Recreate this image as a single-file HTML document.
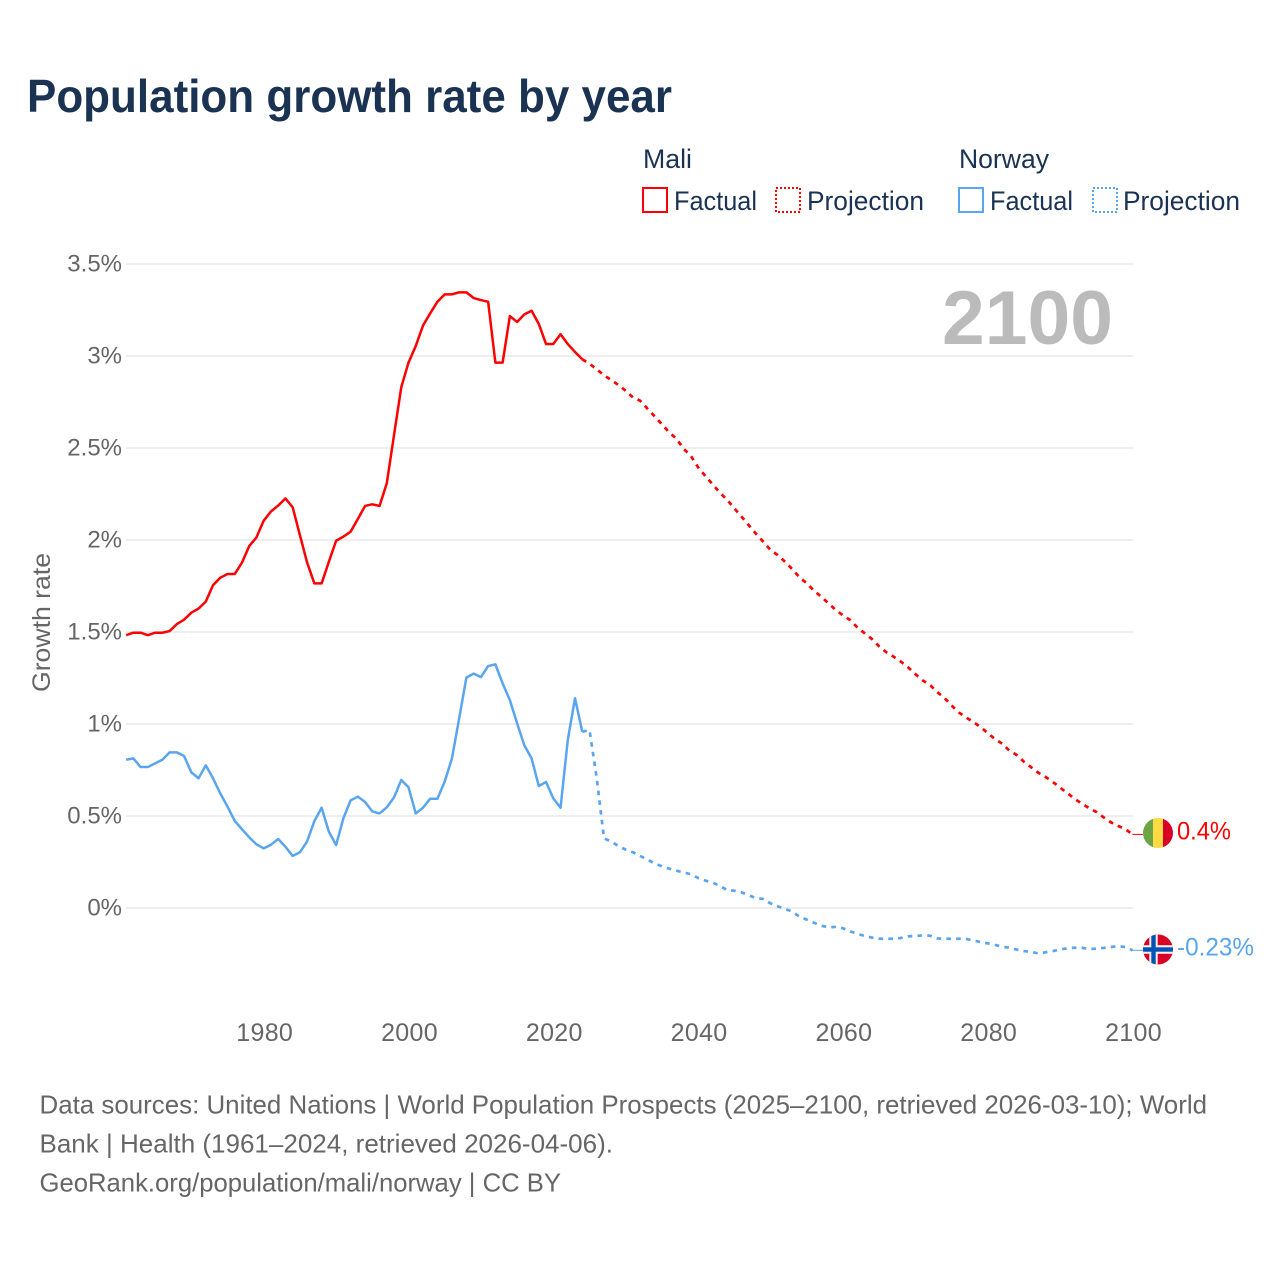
<!DOCTYPE html>
<html lang="en">
<head>
<meta charset="utf-8">
<title>Population growth rate by year</title>
<style>
html,body{margin:0;padding:0;background:#fff;}
svg{display:block;font-family:"Liberation Sans",sans-serif;}
</style>
</head>
<body>
<svg id="chart" xmlns="http://www.w3.org/2000/svg" width="1280" height="1280" viewBox="0 0 1280 1280">
  <rect x="0" y="0" width="1280" height="1280" fill="#ffffff"/>
  <text x="27" y="112" font-size="46" font-weight="700" fill="#1a3352" textLength="645" lengthAdjust="spacingAndGlyphs">Population growth rate by year</text>

  <g font-size="27" fill="#1a3352">
    <text x="643" y="168" textLength="49" lengthAdjust="spacingAndGlyphs">Mali</text>
    <text x="959" y="168" textLength="90" lengthAdjust="spacingAndGlyphs">Norway</text>
    <rect x="643" y="188" width="24" height="24" fill="none" stroke="#ff0000" stroke-width="2"/>
    <text x="674" y="210" textLength="83" lengthAdjust="spacingAndGlyphs">Factual</text>
    <rect x="776" y="188" width="24" height="24" fill="none" stroke="#ff0000" stroke-width="2" stroke-dasharray="2 2"/>
    <text x="807" y="210" textLength="117" lengthAdjust="spacingAndGlyphs">Projection</text>
    <rect x="959" y="188" width="24" height="24" fill="none" stroke="#5aa5ef" stroke-width="2"/>
    <text x="990" y="210" textLength="83" lengthAdjust="spacingAndGlyphs">Factual</text>
    <rect x="1093" y="188" width="24" height="24" fill="none" stroke="#5aa5ef" stroke-width="2" stroke-dasharray="2 2"/>
    <text x="1123" y="210" textLength="117" lengthAdjust="spacingAndGlyphs">Projection</text>
  </g>

  <g id="grid"></g>
  <g id="y-ticks"></g>
  <g id="x-ticks"></g>
  <text transform="translate(50,692) rotate(-90)" font-size="25" fill="#666666" textLength="139" lengthAdjust="spacingAndGlyphs">Growth rate</text>
  <text x="942" y="344" font-size="76" font-weight="700" fill="#bbbbbb" textLength="171" lengthAdjust="spacingAndGlyphs">2100</text>

  <g id="series"></g>

  <defs>
    <clipPath id="clip-mali"><circle cx="1158" cy="833" r="15"/></clipPath>
    <clipPath id="clip-norway"><circle cx="1158" cy="949.5" r="15"/></clipPath>
  </defs>
  <g clip-path="url(#clip-mali)">
    <rect x="1143" y="818" width="10" height="30" fill="#6da544"/>
    <rect x="1153" y="818" width="10" height="30" fill="#ffda44"/>
    <rect x="1163" y="818" width="10" height="30" fill="#d80027"/>
  </g>
  <g clip-path="url(#clip-norway)">
    <rect x="1143" y="934.5" width="30" height="30" fill="#d80027"/>
    <rect x="1149.3" y="934.5" width="8.4" height="30" fill="#f0f0f0"/>
    <rect x="1143" y="945.2" width="30" height="8.6" fill="#f0f0f0"/>
    <rect x="1151.3" y="934.5" width="4.4" height="30" fill="#0052b4"/>
    <rect x="1143" y="947.3" width="30" height="4.4" fill="#0052b4"/>
  </g>
  <text x="1177" y="839.5" font-size="25" fill="#ff0000" textLength="54" lengthAdjust="spacingAndGlyphs">0.4%</text>
  <text x="1177" y="955.5" font-size="25" fill="#5aa5ef" textLength="77" lengthAdjust="spacingAndGlyphs">-0.23%</text>

  <g font-size="26" fill="#666666">
    <text x="39.5" y="1113.5" textLength="1167.5" lengthAdjust="spacingAndGlyphs">Data sources: United Nations | World Population Prospects (2025–2100, retrieved 2026-03-10); World</text>
    <text x="39.5" y="1152.5" textLength="573.5" lengthAdjust="spacingAndGlyphs">Bank | Health (1961–2024, retrieved 2026-04-06).</text>
    <text x="39.5" y="1191.5" textLength="521.5" lengthAdjust="spacingAndGlyphs">GeoRank.org/population/mali/norway | CC BY</text>
  </g>
</svg>

<script>
const firstFactualYear = 1961;
const firstProjectionYear = 2025;

const maliFactual = [1.483,1.496,1.496,1.483,1.496,1.496,1.505,1.543,1.567,1.605,1.627,1.665,1.754,1.795,1.815,1.815,1.877,1.967,2.014,2.105,2.155,2.187,2.226,2.178,2.027,1.877,1.764,1.764,1.882,1.996,2.018,2.045,2.114,2.185,2.194,2.185,2.308,2.57,2.83,2.964,3.054,3.165,3.232,3.295,3.335,3.335,3.346,3.346,3.315,3.304,3.295,2.964,2.964,3.217,3.185,3.226,3.246,3.174,3.065,3.065,3.118,3.065,3.022,2.982];

const maliProjection = [2.958,2.928,2.895,2.870,2.842,2.811,2.775,2.757,2.714,2.672,2.629,2.585,2.551,2.496,2.457,2.395,2.348,2.303,2.257,2.219,2.172,2.127,2.080,2.034,1.991,1.946,1.918,1.882,1.842,1.797,1.765,1.725,1.692,1.656,1.620,1.591,1.565,1.525,1.493,1.462,1.422,1.39,1.366,1.339,1.308,1.272,1.237,1.214,1.174,1.143,1.101,1.063,1.036,1.011,0.984,0.951,0.918,0.893,0.855,0.832,0.795,0.765,0.735,0.712,0.685,0.654,0.625,0.594,0.567,0.543,0.522,0.493,0.466,0.446,0.429,0.40];

const norwayFactual = [0.806,0.813,0.766,0.766,0.786,0.806,0.846,0.846,0.826,0.737,0.705,0.775,0.705,0.623,0.551,0.473,0.428,0.384,0.346,0.324,0.344,0.375,0.333,0.283,0.303,0.362,0.473,0.545,0.415,0.342,0.487,0.585,0.605,0.576,0.525,0.514,0.547,0.601,0.696,0.656,0.514,0.545,0.594,0.594,0.687,0.813,1.031,1.252,1.274,1.255,1.315,1.324,1.221,1.13,1.004,0.884,0.813,0.663,0.685,0.596,0.545,0.913,1.14,0.958];

const norwayProjection = [0.967,0.705,0.379,0.361,0.337,0.317,0.303,0.283,0.263,0.243,0.226,0.214,0.203,0.194,0.183,0.163,0.149,0.138,0.12,0.098,0.094,0.085,0.069,0.054,0.049,0.025,0.009,-0.005,-0.02,-0.047,-0.063,-0.08,-0.096,-0.105,-0.103,-0.11,-0.127,-0.14,-0.152,-0.161,-0.167,-0.167,-0.167,-0.163,-0.154,-0.152,-0.149,-0.15,-0.165,-0.167,-0.167,-0.167,-0.168,-0.176,-0.185,-0.192,-0.201,-0.21,-0.216,-0.226,-0.234,-0.239,-0.246,-0.241,-0.234,-0.226,-0.219,-0.216,-0.216,-0.223,-0.221,-0.217,-0.212,-0.207,-0.212,-0.23];

const yTickValues = [0,0.5,1,1.5,2,2.5,3,3.5];
const yTickLabels = ["0%","0.5%","1%","1.5%","2%","2.5%","3%","3.5%"];
const xTickYears = [1980,2000,2020,2040,2060,2080,2100];

const NS = "http://www.w3.org/2000/svg";
const PLOT_LEFT = 126;
const PLOT_RIGHT = 1133;
const MALI_COLOR = "#ff0000";
const NORWAY_COLOR = "#5aa5ef";

function xScale(year){ return 1132.5 - (2100 - year) * 7.24; }
function yScale(value){ return 908 - value * 184; }

function make(tag, parent){
  const el = document.createElementNS(NS, tag);
  parent.appendChild(el);
  return el;
}

function toPoints(values, startYear){
  return values.map(function(v, i){
    return xScale(startYear + i).toFixed(2) + "," + yScale(v).toFixed(2);
  }).join(" ");
}

function drawLine(parent, values, startYear, color, dash){
  const line = make("polyline", parent);
  line.setAttribute("points", toPoints(values, startYear));
  line.setAttribute("fill", "none");
  line.setAttribute("stroke", color);
  line.setAttribute("stroke-width", dash ? "2.7" : "2.5");
  line.setAttribute("stroke-linejoin", "round");
  if (dash) line.setAttribute("stroke-dasharray", dash);
  return line;
}

const gridGroup = document.getElementById("grid");
const yTickGroup = document.getElementById("y-ticks");
yTickValues.forEach(function(v, i){
  const rule = make("line", gridGroup);
  
  
  rule.setAttribute("x1", PLOT_LEFT);
  rule.setAttribute("x2", PLOT_RIGHT);
  rule.setAttribute("y1", yScale(v));
  rule.setAttribute("y2", yScale(v));
  rule.setAttribute("stroke", "#eeeeee");
  rule.setAttribute("stroke-width", "2");

  const label = make("text", yTickGroup);
  
  
  label.setAttribute("x", 122);
  label.setAttribute("y", yScale(v) + 7.5);
  label.setAttribute("text-anchor", "end");
  label.setAttribute("font-size", "24");
  label.setAttribute("fill", "#666666");
  label.textContent = yTickLabels[i];
});

const xTickGroup = document.getElementById("x-ticks");
xTickYears.forEach(function(year){
  const label = make("text", xTickGroup);
  
  
  label.setAttribute("x", xScale(year) + 1);
  label.setAttribute("y", 1041);
  label.setAttribute("text-anchor", "middle");
  label.setAttribute("font-size", "25");
  label.setAttribute("fill", "#666666");
  label.setAttribute("letter-spacing", "0.3");
  label.textContent = String(year);
});

const seriesGroup = document.getElementById("series");

const maliProjectionLine = drawLine(seriesGroup, maliFactual.slice(-1).concat(maliProjection), firstProjectionYear - 1, MALI_COLOR, "4.6 5.2");



const maliFactualLine = drawLine(seriesGroup, maliFactual, firstFactualYear, MALI_COLOR, null);



const norwayProjectionLine = drawLine(seriesGroup, norwayFactual.slice(-1).concat(norwayProjection), firstProjectionYear - 1, NORWAY_COLOR, "4.6 5.2");



const norwayFactualLine = drawLine(seriesGroup, norwayFactual, firstFactualYear, NORWAY_COLOR, null);



function drawLeader(parent, value, color){
  const leader = make("line", parent);
  leader.setAttribute("x1", xScale(2100));
  leader.setAttribute("x2", xScale(2100) + 10.5);
  leader.setAttribute("y1", yScale(value));
  leader.setAttribute("y2", yScale(value));
  leader.setAttribute("stroke", color);
  leader.setAttribute("stroke-width", "1");
  return leader;
}

const maliLeader = drawLeader(seriesGroup, maliProjection[maliProjection.length - 1], MALI_COLOR);



const norwayLeader = drawLeader(seriesGroup, norwayProjection[norwayProjection.length - 1], NORWAY_COLOR);


</script>
</body>
</html>
